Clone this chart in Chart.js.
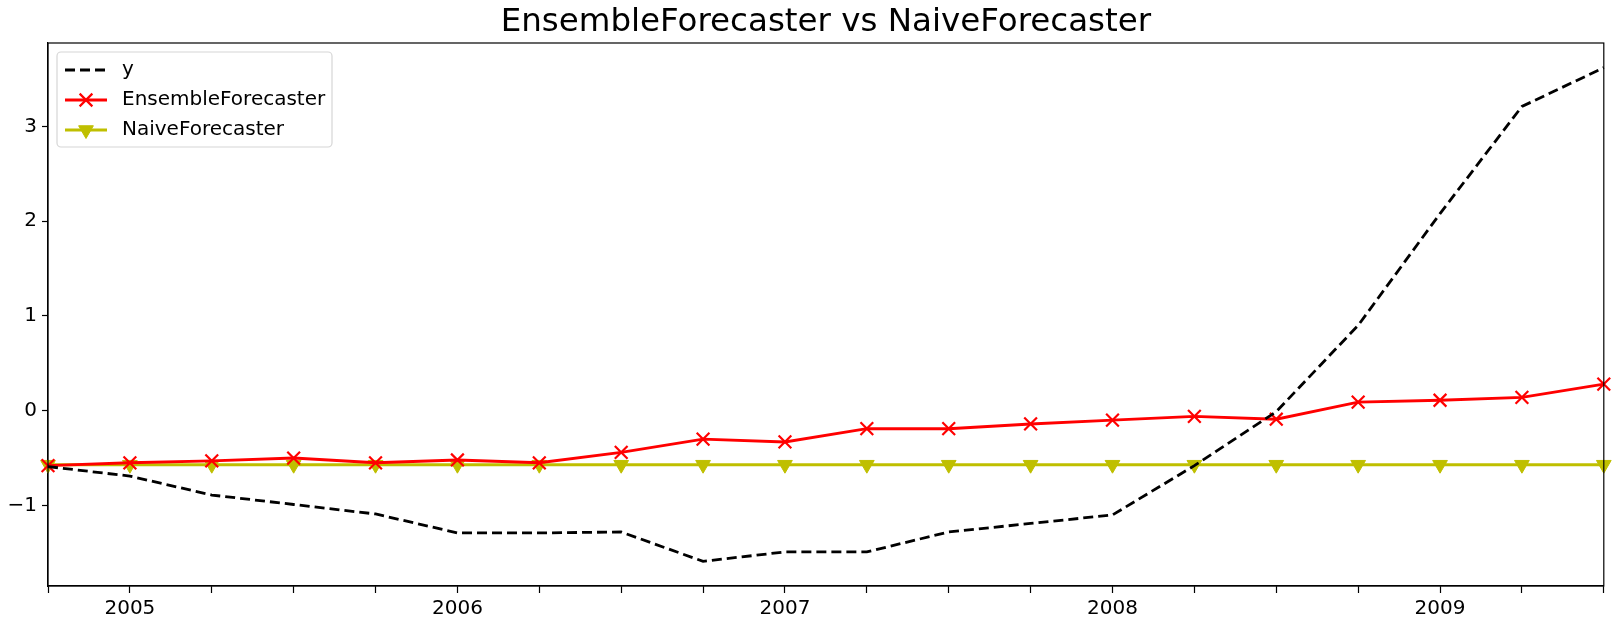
<!DOCTYPE html>
<html>
<head>
<meta charset="utf-8">
<script src="https://cdn.jsdelivr.net/npm/chart.js@4"></script>
<style>
    html, body { margin: 0; padding: 0; background: #fff; }
    #wrap { width: 1615px; height: 621px; }
</style>
</head>
<body>
<div id="wrap"><canvas id="chart" width="1615" height="621"></canvas></div>
<script>
// quarterly periods, 2004Q4 .. 2009Q3
const quarters = ['2004-10', '2005-01', '2005-04', '2005-07', '2005-10',
    '2006-01', '2006-04', '2006-07', '2006-10', '2007-01', '2007-04', '2007-07', '2007-10',
    '2008-01', '2008-04', '2008-07', '2008-10', '2009-01', '2009-04', '2009-07'];

const yActual = [-0.59, -0.69, -0.89, -0.99, -1.09, -1.29, -1.29, -1.28, -1.59, -1.49,
    -1.49, -1.28, -1.19, -1.10, -0.58, -0.01, 0.90, 2.08, 3.21, 3.62];

const ensembleValues = [-0.58, -0.55, -0.53, -0.50, -0.55, -0.52, -0.55, -0.44, -0.30, -0.33,
    -0.19, -0.19, -0.14, -0.10, -0.06, -0.09, 0.09, 0.11, 0.14, 0.28];

const naiveValues = [-0.57, -0.57, -0.57, -0.57, -0.57, -0.57, -0.57, -0.57, -0.57, -0.57,
    -0.57, -0.57, -0.57, -0.57, -0.57, -0.57, -0.57, -0.57, -0.57, -0.57];

const yTicks = [-1, 0, 1, 2, 3];

const FONT = "'DejaVu Sans', sans-serif";

// matplotlib style frame + legend box
const framePlugin = {
    id: 'frame',
    afterDraw(chart) {
        const ctx = chart.ctx;
        const a = chart.chartArea;
        ctx.save();
        ctx.strokeStyle = '#000';
        ctx.lineWidth = 1.2;
        ctx.strokeRect(a.left, a.top, a.right - a.left, a.bottom - a.top);

        // legend
        const x0 = a.left + 9, y0 = a.top + 9;
        const w = 275, h = 95;
        ctx.fillStyle = 'rgba(255,255,255,0.85)';
        ctx.strokeStyle = '#d6d6d6';
        ctx.lineWidth = 1.2;
        ctx.beginPath();
        ctx.roundRect(x0, y0, w, h, 4);
        ctx.fill();
        ctx.stroke();

        ctx.font = '20px ' + FONT;
        ctx.textBaseline = 'middle';
        chart.data.datasets.forEach((ds, i) => {
            const cy = y0 + 18 + i * 30;
            const lx1 = x0 + 8, lx2 = x0 + 50, mx = (lx1 + lx2) / 2;
            ctx.strokeStyle = ds.borderColor;
            ctx.lineWidth = ds.borderWidth;
            ctx.setLineDash(ds.borderDash || []);
            ctx.beginPath();
            ctx.moveTo(lx1, cy);
            ctx.lineTo(lx2, cy);
            ctx.stroke();
            ctx.setLineDash([]);
            if (ds.pointRadius > 0) {
                ctx.fillStyle = ds.pointBackgroundColor;
                ctx.strokeStyle = ds.pointBorderColor;
                ctx.lineWidth = ds.pointBorderWidth;
                Chart.helpers.drawPoint(ctx, {
                    pointStyle: ds.pointStyle,
                    rotation: ds.pointRotation || 0,
                    radius: ds.pointRadius,
                    borderWidth: ds.pointBorderWidth
                }, mx, cy);
            }
            ctx.fillStyle = '#000';
            ctx.fillText(ds.label, x0 + 65, cy);
        });
        ctx.restore();
    }
};

new Chart(document.getElementById('chart'), {
    type: 'line',
    data: {
        labels: quarters,
        datasets: [
            {
                label: 'y',
                data: yActual,
                borderColor: '#000000',
                borderWidth: 2.8,
                borderDash: [10, 5],
                pointRadius: 0,
                tension: 0
            },
            {
                label: 'EnsembleForecaster',
                data: ensembleValues,
                borderColor: '#ff0000',
                borderWidth: 2.9,
                pointStyle: 'crossRot',
                pointRadius: 9,
                pointBorderWidth: 2.2,
                pointBorderColor: '#ff0000',
                pointBackgroundColor: '#ff0000',
                tension: 0
            },
            {
                label: 'NaiveForecaster',
                data: naiveValues,
                borderColor: '#bfbf00',
                borderWidth: 2.9,
                pointStyle: 'triangle',
                pointRotation: 180,
                pointRadius: 8.5,
                pointBorderWidth: 1,
                pointBorderColor: '#bfbf00',
                pointBackgroundColor: '#bfbf00',
                tension: 0
            }
        ]
    },
    options: {
        responsive: false,
        animation: false,
        clip: false,
        layout: { padding: { left: 0, right: 7, top: 0, bottom: 0 } },
        plugins: {
            legend: { display: false },
            tooltip: { enabled: false },
            title: {
                display: true,
                fullSize: false,
                text: 'EnsembleForecaster vs NaiveForecaster',
                color: '#000',
                font: { family: FONT, size: 32.5, weight: 'normal' },
                padding: { top: 3, bottom: 1 }
            }
        },
        scales: {
            x: {
                type: 'category',
                offset: false,
                afterFit(scale) { scale.height = 35; },
                grid: {
                    display: true,
                    drawOnChartArea: false,
                    drawTicks: true,
                    tickLength: 7,
                    tickColor: '#000',
                    tickWidth: 1.2
                },
                border: { display: true, color: '#000', width: 1.2 },
                ticks: {
                    autoSkip: false,
                    maxRotation: 0,
                    color: '#000',
                    padding: 4,
                    font: { family: FONT, size: 20 },
                    callback(value, index) {
                        const q = quarters[index];
                        return q.endsWith('-01') ? q.slice(0, 4) : '';
                    }
                }
            },
            y: {
                type: 'linear',
                min: -1.85,
                max: 3.88,
                afterFit(scale) { scale.width = 48; },
                afterBuildTicks(scale) {
                    scale.ticks = yTicks.map(v => ({ value: v }));
                },
                grid: {
                    display: true,
                    drawOnChartArea: false,
                    drawTicks: true,
                    tickLength: 6,
                    tickColor: '#000',
                    tickWidth: 1.2
                },
                border: { display: true, color: '#000', width: 1.2 },
                ticks: {
                    color: '#000',
                    padding: 5,
                    font: { family: FONT, size: 20 },
                    callback(value) {
                        return value < 0 ? '\u2212' + Math.abs(value) : String(value);
                    }
                }
            }
        }
    },
    plugins: [framePlugin]
});
</script>
</body>
</html>
